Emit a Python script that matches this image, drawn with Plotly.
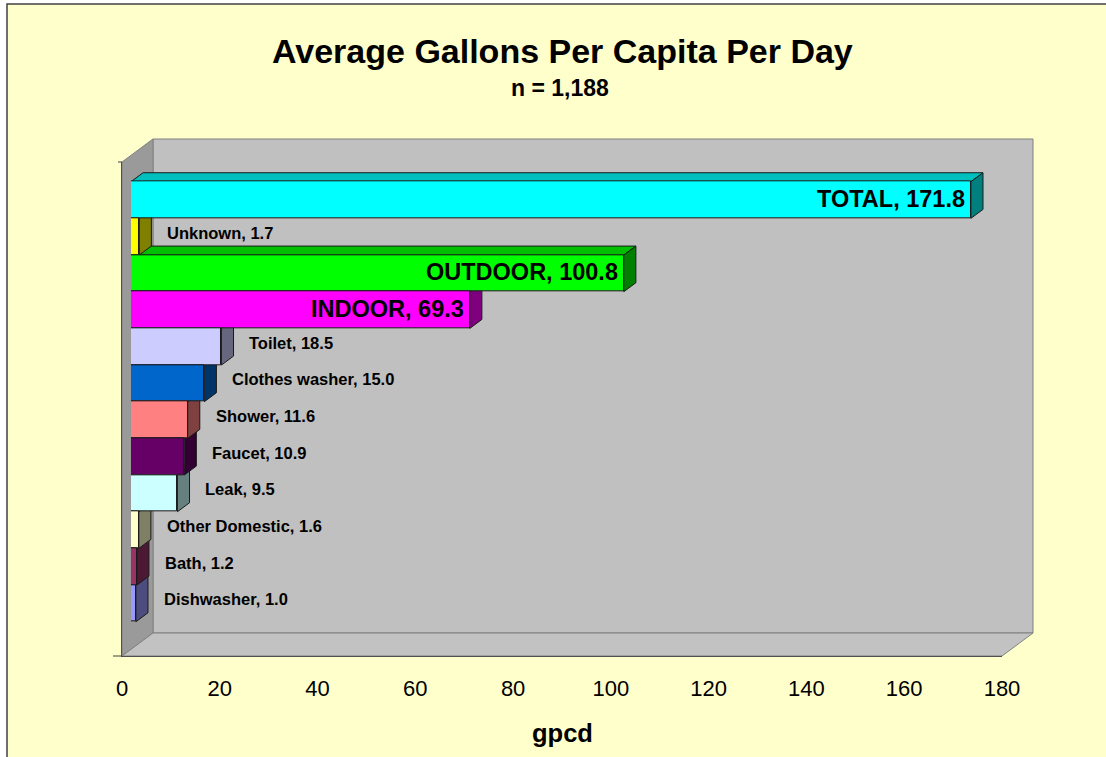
import plotly.graph_objects as go

# ---------------- data ----------------
categories = ["TOTAL", "Unknown", "OUTDOOR", "INDOOR", "Toilet", "Clothes washer",
              "Shower", "Faucet", "Leak", "Other Domestic", "Bath", "Dishwasher"]
values = [171.8, 1.7, 100.8, 69.3, 18.5, 15.0, 11.6, 10.9, 9.5, 1.6, 1.2, 1.0]
bar_colors = ["#00FFFF", "#FFFF00", "#00FF00", "#FF00FF", "#CCCCFF", "#0066CC",
              "#FF8080", "#660066", "#CCFFFF", "#FFFFCC", "#993366", "#9999FF"]
x_ticks = [0, 20, 40, 60, 80, 100, 120, 140, 160, 180]
title_text = "Average Gallons Per Capita Per Day"
subtitle_text = "n = 1,188"
x_title = "gpcd"

# ---------------- geometry (pixels) ----------------
W, H = 1106, 757
FX0, FX1 = 122, 1002        # front plane: x=0 and x=180
FY0, FY1 = 162, 656         # front plane top / bottom
DX, DY = 31, -23            # full depth offset of the 3-D box
F0, F1 = 0.29, 0.68         # depth fractions occupied by bars
XMAX = x_ticks[-1]
CAT_PX = 36.67              # pixel height of one category band
FIRST_PX = 206.7            # centre of first category on front plane
FONT = "Liberation Sans, Arial, sans-serif"

n = len(categories)
idx = list(range(n))
y_top = (FY0 - FIRST_PX) / CAT_PX
y_bot = (FY1 - FIRST_PX) / CAT_PX
px_per_unit = (FX1 - FX0) / XMAX
bdx = (F1 - F0) * DX / px_per_unit
bdy = (F1 - F0) * DY / CAT_PX


def px(x):
    return x / W


def py(y):
    return 1 - y / H


def shade(hexcol, f):
    h = hexcol.lstrip("#")
    r, g, b = (int(h[i:i + 2], 16) for i in (0, 2, 4))
    return "#%02X%02X%02X" % (int(r * f), int(g * f), int(b * f))


def poly(pts):
    return "M " + " L ".join(f"{a},{b}" for a, b in pts) + " Z"


fig = go.Figure()
# invisible trace so the front axes exist
fig.add_trace(go.Scatter(x=[0, XMAX], y=[0, 0], mode="none", hoverinfo="skip",
                         showlegend=False, xaxis="x", yaxis="y"))
# bar front faces
fig.add_trace(go.Bar(x=values, y=idx, orientation="h", width=1.0,
                     marker=dict(color=bar_colors, line=dict(color="#1A1A1A", width=1)),
                     xaxis="x2", yaxis="y2", showlegend=False, hoverinfo="skip"))

shapes = []
# chart area
shapes.append(dict(type="rect", xref="paper", yref="paper", x0=px(7), x1=1.02,
                   y0=-0.02, y1=py(4), fillcolor="#FFFFCC",
                   line=dict(color="#404040", width=1.5), layer="below"))
# back wall
shapes.append(dict(type="path", xref="paper", yref="paper", layer="below",
                   path=poly([(px(FX0 + DX), py(FY0 + DY)), (px(FX1 + DX), py(FY0 + DY)),
                              (px(FX1 + DX), py(FY1 + DY)), (px(FX0 + DX), py(FY1 + DY))]),
                   fillcolor="#C0C0C0", line=dict(color="#808080", width=1)))
# left wall
shapes.append(dict(type="path", xref="paper", yref="paper", layer="below",
                   path=poly([(px(FX0), py(FY0)), (px(FX0 + DX), py(FY0 + DY)),
                              (px(FX0 + DX), py(FY1 + DY)), (px(FX0), py(FY1))]),
                   fillcolor="#9A9A9A", line=dict(color="#808080", width=1)))
# floor
shapes.append(dict(type="path", xref="paper", yref="paper", layer="below",
                   path=poly([(px(FX0), py(FY1)), (px(FX0 + DX), py(FY1 + DY)),
                              (px(FX1 + DX), py(FY1 + DY)), (px(FX1), py(FY1))]),
                   fillcolor="#C2C2C2", line=dict(color="#808080", width=1)))
# small tick marks on the left edge
shapes.append(dict(type="line", xref="paper", yref="paper", x0=px(FX0 - 4), x1=px(FX0),
                   y0=py(FY0), y1=py(FY0), line=dict(color="#404040", width=1)))
shapes.append(dict(type="line", xref="paper", yref="paper", x0=px(FX0 - 9), x1=px(FX0),
                   y0=py(FY1), y1=py(FY1), line=dict(color="#404040", width=1)))

# bar top and side faces (bottom bar first so upper bars overlap)
for i in reversed(idx):
    v = values[i]
    c = bar_colors[i]
    yt, yb = i - 0.5, i + 0.5
    shapes.append(dict(type="path", xref="x2", yref="y2", layer="below",
                       path=poly([(0, yt), (v, yt), (v + bdx, yt + bdy), (bdx, yt + bdy)]),
                       fillcolor=shade(c, 0.75), line=dict(color="#1A1A1A", width=1)))
    shapes.append(dict(type="path", xref="x2", yref="y2", layer="below",
                       path=poly([(v, yt), (v + bdx, yt + bdy), (v + bdx, yb + bdy), (v, yb)]),
                       fillcolor=shade(c, 0.5), line=dict(color="#1A1A1A", width=1)))

annotations = [
    dict(text=title_text, xref="paper", yref="paper", x=px(562), y=py(51),
         showarrow=False, xanchor="center", yanchor="middle",
         font=dict(family=FONT, size=34, color="black", weight="bold")),
    dict(text=subtitle_text, xref="paper", yref="paper", x=px(560), y=py(88),
         showarrow=False, xanchor="center", yanchor="middle",
         font=dict(family=FONT, size=23, color="black", weight="bold")),
    dict(text=x_title, xref="paper", yref="paper", x=px(562), y=py(733),
         showarrow=False, xanchor="center", yanchor="middle",
         font=dict(family=FONT, size=25.5, color="black", weight="bold")),
]

for i, (cat, v) in enumerate(zip(categories, values)):
    label = f"{cat}, {v:.1f}"
    if v > 50:
        annotations.append(dict(text=label, xref="x2", yref="y2", x=v, y=i,
                                showarrow=False, xanchor="right", yanchor="middle",
                                xshift=-4, yshift=1,
                                font=dict(family=FONT, size=23.5, color="black", weight="bold")))
    else:
        annotations.append(dict(text=label, xref="x2", yref="y2", x=v, y=i,
                                showarrow=False, xanchor="left", yanchor="middle",
                                xshift=26, yshift=4,
                                font=dict(family=FONT, size=16.5, color="black", weight="bold")))

fig.update_layout(
    template="none",
    width=W, height=H, autosize=False,
    margin=dict(l=0, r=0, t=0, b=0, pad=0),
    paper_bgcolor="white", plot_bgcolor="rgba(0,0,0,0)",
    shapes=shapes, annotations=annotations, bargap=0, showlegend=False,
    xaxis=dict(domain=[px(FX0), px(FX1)], range=[0, XMAX], anchor="y", automargin=False,
               tickvals=x_ticks, ticktext=[str(t) for t in x_ticks],
               ticks="outside", ticklen=13, tickcolor="rgba(0,0,0,0)",
               tickfont=dict(family=FONT, size=22, color="black"),
               showgrid=False, zeroline=False, showline=True,
               linecolor="#505050", linewidth=1, fixedrange=True),
    yaxis=dict(domain=[py(FY1), py(FY0)], range=[y_bot, y_top], anchor="x", automargin=False,
               showticklabels=False, ticks="", showgrid=False, zeroline=False,
               showline=True, linecolor="#505050", linewidth=1, fixedrange=True),
    xaxis2=dict(domain=[px(FX0 + F0 * DX), px(FX1 + F0 * DX)], range=[0, XMAX],
                anchor="y2", visible=False, automargin=False, fixedrange=True,
                showgrid=False, zeroline=False),
    yaxis2=dict(domain=[py(FY1 + F0 * DY), py(FY0 + F0 * DY)], range=[y_bot, y_top],
                anchor="x2", visible=False, automargin=False, fixedrange=True,
                showgrid=False, zeroline=False),
)

fig.write_html("out.html", config={"displayModeBar": False},
               post_script="document.body.style.margin='0';"
                           "document.documentElement.style.overflow='hidden';")
